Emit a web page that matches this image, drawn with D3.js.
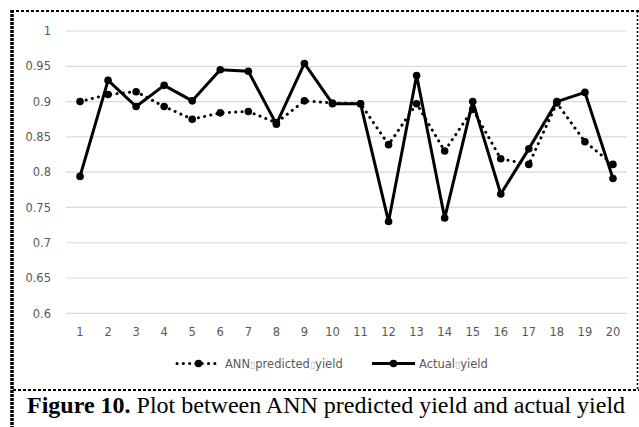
<!DOCTYPE html>
<html><head><meta charset="utf-8">
<script src="https://cdn.jsdelivr.net/npm/d3@7"></script>
<style>body{margin:0;background:#fff}svg{display:block}</style>
</head><body>
<script>
const categories = d3.range(1, 21).map(String);
const yTicks = [0.6, 0.65, 0.7, 0.75, 0.8, 0.85, 0.9, 0.95, 1];
const predicted = [0.900, 0.910, 0.914, 0.893, 0.875, 0.884, 0.886, 0.870, 0.901, 0.898,
                   0.897, 0.839, 0.897, 0.830, 0.889, 0.819, 0.811, 0.898, 0.843, 0.811];
const actual = [0.794, 0.930, 0.893, 0.923, 0.901, 0.945, 0.943, 0.868, 0.954, 0.897,
                0.897, 0.730, 0.937, 0.735, 0.900, 0.769, 0.833, 0.900, 0.913, 0.791];
const seriesNames = ["ANN\u25AFpredicted\u25AFyield", "Actual\u25AFyield"];
const caption = ["Figure 10.", " Plot between ANN predicted yield and actual yield"];

const W = 639, H = 427;
const svg = d3.select("body").append("svg").attr("width", W).attr("height", H);

const x = d3.scalePoint().domain(categories).range([66, 627]).padding(0.5);
const y = d3.scaleLinear().domain([0.6, 1]).range([313.3, 31]);

// gridlines
svg.append("g").selectAll("line").data(yTicks).join("line")
  .attr("x1", 66).attr("x2", 627)
  .attr("y1", d => y(d)).attr("y2", d => y(d))
  .attr("stroke", "#d9d9d9").attr("stroke-width", 1.2);

// y axis labels
const fmt = d => d === 1 ? "1" : String(d);
svg.append("g").selectAll("text").data(yTicks).join("text")
  .attr("x", 51).attr("y", d => y(d) + 4.2)
  .attr("text-anchor", "end")
  .attr("font-family", "DejaVu Sans").attr("font-size", 11.5)
  .attr("fill", "#595959").text(fmt);

// x axis labels
svg.append("g").selectAll("text").data(categories).join("text")
  .attr("x", d => x(d)).attr("y", 336)
  .attr("text-anchor", "middle")
  .attr("font-family", "DejaVu Sans").attr("font-size", 11.5)
  .attr("fill", "#595959").text(d => d);

const line = d3.line().x((d, i) => x(categories[i])).y(d => y(d));

// predicted (dotted)
svg.append("path").datum(predicted).attr("d", line)
  .attr("fill", "none").attr("stroke", "#000").attr("stroke-width", 3)
  .attr("stroke-linecap", "round").attr("stroke-dasharray", "0.1 6.2");
svg.append("g").selectAll("circle").data(predicted).join("circle")
  .attr("cx", (d, i) => x(categories[i])).attr("cy", d => y(d)).attr("r", 3.8).attr("fill", "#000");

// actual (solid)
svg.append("path").datum(actual).attr("d", line)
  .attr("fill", "none").attr("stroke", "#000").attr("stroke-width", 3)
  .attr("stroke-linejoin", "round");
svg.append("g").selectAll("circle").data(actual).join("circle")
  .attr("cx", (d, i) => x(categories[i])).attr("cy", d => y(d)).attr("r", 3.8).attr("fill", "#000");

// legend
const legY = 363.5;
const leg = [
  {x1: 177, x2: 220, tx: 225, dash: "0.1 6.2", name: seriesNames[0]},
  {x1: 372, x2: 415, tx: 419, dash: null, name: seriesNames[1]}
];
leg.forEach(l => {
  svg.append("line").attr("x1", l.x1).attr("x2", l.x2).attr("y1", legY).attr("y2", legY)
    .attr("stroke", "#000").attr("stroke-width", 3)
    .attr("stroke-linecap", l.dash ? "round" : "butt")
    .attr("stroke-dasharray", l.dash);
  svg.append("circle").attr("cx", (l.x1 + l.x2) / 2).attr("cy", legY).attr("r", 3.8).attr("fill", "#000");
  const t = svg.append("text").attr("x", l.tx).attr("y", legY + 4)
    .attr("font-family", "DejaVu Sans").attr("font-size", 11.5).attr("fill", "#595959");
  l.name.split("\u25AF").forEach((part, i) => {
    if (i > 0) t.append("tspan").attr("fill", "#b0b0b0").attr("font-size", 9.5).text("\u25AF");
    t.append("tspan").text(part);
  });
});

// frame (dashed borders)
svg.append("line").attr("x1", 11).attr("x2", 639).attr("y1", 11).attr("y2", 11)
  .attr("stroke", "#000").attr("stroke-width", 2).attr("stroke-dasharray", "3 2");
svg.append("line").attr("x1", 13).attr("x2", 639).attr("y1", 390).attr("y2", 390)
  .attr("stroke", "#000").attr("stroke-width", 2).attr("stroke-dasharray", "3 2");
svg.append("line").attr("x1", 12).attr("x2", 12).attr("y1", 10).attr("y2", 427)
  .attr("stroke", "#000").attr("stroke-width", 3.5).attr("stroke-dasharray", "3 1");
svg.append("line").attr("x1", 637.5).attr("x2", 637.5).attr("y1", 11).attr("y2", 390)
  .attr("stroke", "#000").attr("stroke-width", 1.5).attr("stroke-dasharray", "2 2");

// caption
const cap = svg.append("text").attr("x", 27).attr("y", 413)
  .attr("font-family", "Liberation Serif").attr("font-size", 24).attr("fill", "#000");
cap.append("tspan").attr("font-weight", "bold").text(caption[0]);
cap.append("tspan").text(caption[1]);
</script>
</body></html>
